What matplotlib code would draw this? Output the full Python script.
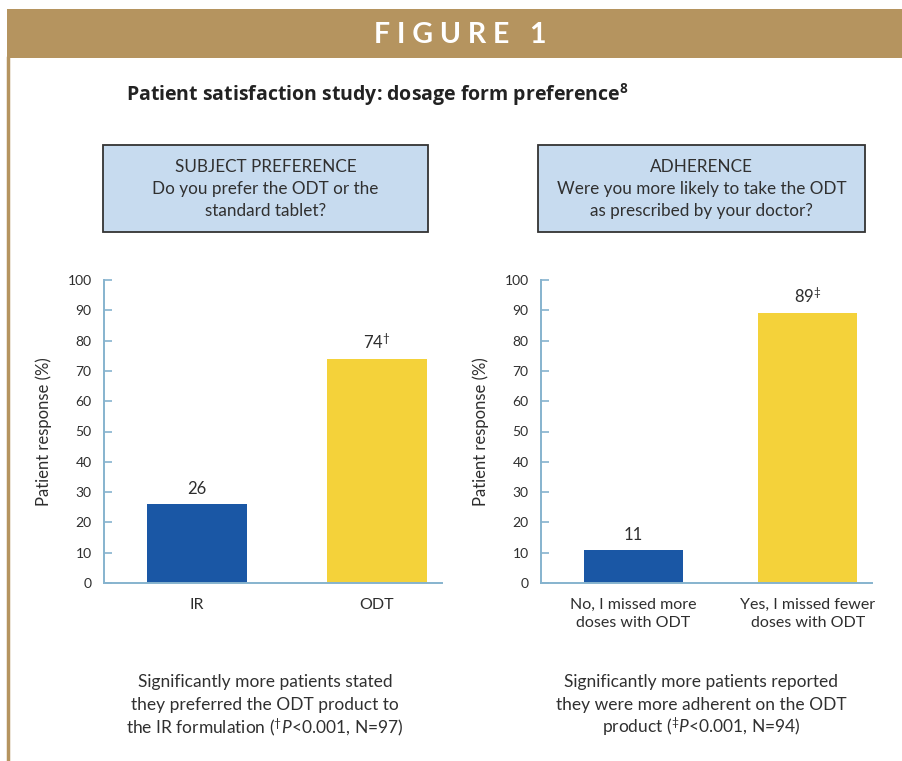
import matplotlib
matplotlib.use('Agg')
import matplotlib.pyplot as plt
from matplotlib.patches import Rectangle
from matplotlib.lines import Line2D


# Data for the two panels

pref_labels = ['IR', 'ODT']
pref_values = [26, 74]
pref_marks = ['', r'$^{\dagger}$']

adh_labels = ['No, I missed more\ndoses with ODT', 'Yes, I missed fewer\ndoses with ODT']
adh_values = [11, 89]
adh_marks = ['', r'$^{\ddagger}$']

yticks = [0, 10, 20, 30, 40, 50, 60, 70, 80, 90, 100]

title = r'Patient satisfaction study: dosage form preference$^{\mathbf{8}}$'

pref_question = ['SUBJECT PREFERENCE', 'Do you prefer the ODT or the', 'standard tablet?']
adh_question = ['ADHERENCE', 'Were you more likely to take the ODT', 'as prescribed by your doctor?']

pref_note = ['Significantly more patients stated',
             'they preferred the ODT product to',
             r'the IR formulation ($^{\dagger}\mathit{P}$<0.001, N=97)']
adh_note = ['Significantly more patients reported',
            'they were more adherent on the ODT',
            r'product ($^{\ddagger}\mathit{P}$<0.001, N=94)']


# Colours / style

gold = '#B5945F'
blue = '#1A57A5'
yellow = '#F4D23A'
axis_col = '#86B3CE'
text_col = '#2E2E2E'
box_fill = '#C7DBEF'

plt.rcParams['font.family'] = ['Lato', 'DejaVu Sans']
plt.rcParams['mathtext.fontset'] = 'custom'
plt.rcParams['mathtext.rm'] = 'Lato'
plt.rcParams['mathtext.it'] = 'Lato:italic'
plt.rcParams['mathtext.bf'] = 'Open Sans:bold'
plt.rcParams['text.color'] = text_col

W, H = 903, 761
fig = plt.figure(figsize=(W/100, H/100), dpi=100)
fig.patch.set_facecolor('white')


def fx(x):
    return x/W


def fy(y):
    return 1 - y/H


# Header band and left border
fig.patches.append(Rectangle((fx(7), fy(58)), fx(903-7), 49/H, transform=fig.transFigure,
                             facecolor=gold, edgecolor='none'))
fig.lines.append(Line2D([fx(8), fx(8)], [fy(58), fy(761)], transform=fig.transFigure,
                        color=gold, lw=2.5))
fig.text(fx(460), fy(35), 'F I G U R E   1', color='white', fontsize=20.5, fontweight='bold',
         ha='center', va='center')

fig.text(fx(126), fy(95), title, fontsize=14, fontweight='bold', family='Open Sans',
         color='#222222', ha='left', va='center')


def text_lines(xc, ys, lines, size):
    for y, line in zip(ys, lines):
        fig.text(fx(xc), fy(y), line, fontsize=size, ha='center', va='center', color='#303030')


def question_box(x0, x1, lines):
    fig.patches.append(Rectangle((fx(x0), fy(232)), fx(x1-x0), 87/H, transform=fig.transFigure,
                                 facecolor=box_fill, edgecolor='#333333', lw=1.3))
    text_lines((x0+x1)/2, [167, 189, 211], lines, 12.3)


question_box(103, 428, pref_question)
question_box(538, 865, adh_question)


def bar_panel(rect, labels, values, marks, xlim, width):
    ax = fig.add_axes(rect)
    xs = range(len(values))
    ax.bar(xs, values, width=width, color=[blue, yellow], zorder=2)
    for x, v, m in zip(xs, values, marks):
        ax.annotate(f'{v}{m}', (x, v), xytext=(0, 5), textcoords='offset points',
                    ha='center', va='bottom', fontsize=12, color=text_col)
    ax.set_xlim(xlim)
    ax.set_ylim(0, 100)
    ax.set_yticks(yticks)
    ax.set_xticks(list(xs))
    ax.set_xticklabels(labels, fontsize=11.5, linespacing=1.35)
    for s in ['top', 'right']:
        ax.spines[s].set_visible(False)
    for s in ['left', 'bottom']:
        ax.spines[s].set_color(axis_col)
        ax.spines[s].set_linewidth(1.4)
    ax.tick_params(axis='y', direction='in', length=5.5, width=1.2, color=axis_col,
                   labelsize=10, labelcolor=text_col, pad=9)
    ax.tick_params(axis='x', length=0, pad=11, labelcolor=text_col)
    ax.set_ylabel('Patient response (%)', fontsize=12, color=text_col)
    ax.set_facecolor('none')
    return ax


ax1 = bar_panel([fx(104), fy(583), fx(442-104), 303/H], pref_labels, pref_values, pref_marks,
                (-0.518, 1.364), 0.557)
ax1.yaxis.set_label_coords(-0.154, 0.5)

ax2 = bar_panel([fx(541), fy(583), fx(872-541), 303/H], adh_labels, adh_values, adh_marks,
                (-0.530, 1.367), 0.567)
ax2.yaxis.set_label_coords(-0.157, 0.5)

# Notes under each panel
text_lines(265, [682, 705, 727], pref_note, 12.5)
text_lines(701, [682, 705, 727], adh_note, 12.5)

fig.savefig('out.png', dpi=100)
